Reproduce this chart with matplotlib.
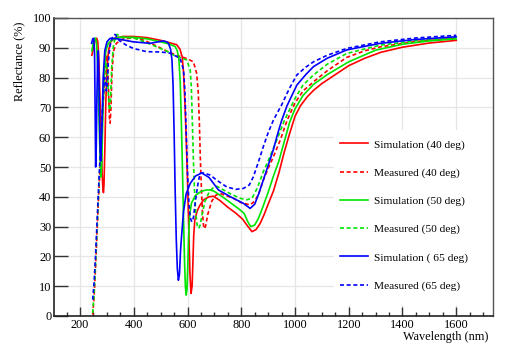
import matplotlib
matplotlib.use('Agg')
import matplotlib.pyplot as plt
from matplotlib.ticker import MultipleLocator
from matplotlib.patches import Rectangle

plt.rcParams['font.family'] = ['Liberation Serif', 'DejaVu Serif']

# Simulation (40 deg)
wl_sim40 = [244, 250, 256, 262, 266, 270, 274, 278, 282, 285, 287, 289, 292, 296, 300, 306, 314, 330,
            360, 400, 450, 500, 530, 560, 572, 580, 585, 590, 595, 600, 605, 609, 613, 617, 620, 623,
            627, 635, 645, 660, 680, 696, 720, 750, 780, 805, 825, 840, 855, 870, 885, 900, 920, 940,
            960, 980, 1000, 1020, 1045, 1070, 1100, 1150, 1200, 1260, 1320, 1400, 1500, 1600]
r_sim40 = [87.5, 90, 92.5, 93.2, 92, 86, 74, 60, 48, 43, 41.4, 44, 55, 72, 83, 89, 92, 93.3,
           93.8, 93.8, 93.4, 92.5, 91.8, 91, 89.5, 87, 82, 72, 60, 45, 28, 14, 7.6, 10, 18, 27,
           32, 35, 37, 39, 40, 40.2, 38.8, 36.5, 34.5, 32.5, 30, 28.3, 29, 31, 34, 37.5, 42, 48,
           55, 61.2, 67, 70.5, 73.5, 75.8, 78, 81, 84, 86.5, 88.5, 90.2, 91.6, 92.5]

# Measured (40 deg)
wl_mea40 = [247, 252, 258, 264, 270, 276, 282, 288, 294, 299, 303, 306, 309, 312, 315, 319, 325, 335,
            360, 400, 440, 480, 520, 560, 600, 622, 634, 640, 644, 648, 652, 656, 660, 664, 668, 675,
            690, 705, 720, 740, 771, 800, 833, 850, 865, 882, 900, 920, 945, 970, 1000, 1030, 1069,
            1120, 1193, 1260, 1317, 1450, 1600]
r_mea40 = [0.5, 6, 17, 30, 42, 53, 64, 75, 84, 87.5, 84, 76, 67, 64.7, 70, 82, 89, 91.5,
           93, 93.3, 92.5, 90.8, 89, 87.5, 86.3, 85.3, 81.4, 75, 65, 52, 42, 34, 30, 29.3, 30.5, 34,
           38.5, 40.5, 41.2, 40.5, 39.5, 38, 37.3, 38.5, 41, 45.6, 49.5, 53.5, 59, 65.5, 71.5, 75.5, 78.6,
           82.3, 86.8, 89, 90.3, 92.1, 93.2]

# Simulation (50 deg)
wl_sim50 = [244, 250, 256, 261, 265, 269, 273, 276, 278, 281, 285, 290, 296, 305, 318, 340, 400, 450,
            500, 530, 554, 562, 568, 573, 577, 581, 585, 589, 592, 595, 598, 601, 604, 608, 615, 630,
            650, 670, 685, 700, 730, 760, 790, 810, 825, 835, 850, 865, 880, 900, 920, 940, 960, 980,
            1000, 1030, 1070, 1120, 1200, 1300, 1400, 1500, 1600]
r_sim50 = [89, 92, 93.3, 92, 85, 72, 58, 50, 46.7, 52, 68, 82, 89, 91.5, 92.5, 93.5, 93.5, 93,
           92, 91.3, 90.4, 89, 86, 78, 65, 50, 33, 18, 10, 7, 9, 17, 27, 34, 38, 40.5,
           41.8, 42.3, 42.3, 41.8, 40, 38, 36, 34.5, 31.5, 30, 30.5, 33, 36.5, 41.5, 47, 52, 58.5, 65,
           69.5, 74, 77.8, 81, 85.3, 89.2, 91.2, 92.3, 93.0]

# Measured (50 deg)
wl_mea50 = [247, 252, 258, 264, 270, 276, 282, 288, 293, 297, 301, 305, 308, 311, 314, 318, 324, 330,
            337, 360, 400, 440, 480, 520, 547, 570, 597, 610, 614, 618, 622, 626, 631, 636, 642, 647,
            654, 665, 680, 695, 710, 730, 760, 796, 820, 840, 860, 882, 900, 932, 960, 1000, 1030,
            1069, 1120, 1193, 1317, 1450, 1600]
r_mea50 = [1, 7, 18, 31, 43, 54, 65, 76, 83, 85, 83, 75, 70, 69, 74, 84, 90.5, 93,
           94.5, 93.5, 93.3, 92, 90.5, 89, 87.6, 86.8, 85.9, 82.6, 77, 65, 52, 42, 34, 30.5, 29.4, 30.5,
           34, 38.5, 41.5, 43, 43.5, 42.5, 41, 39.5, 39, 39.5, 43, 48.4, 52, 59, 65.5, 73, 77.5,
           80.9, 84.5, 88.1, 90.9, 92.4, 93.4]

# Simulation ( 65 deg)
wl_sim65 = [243, 247, 251, 254, 256, 258, 260, 263, 266, 268, 271, 274, 277, 281, 286, 292, 300, 312,
            340, 398, 461, 490, 510, 522, 529, 537, 542, 546, 550, 554, 558, 562, 566, 570, 574, 578,
            585, 595, 610, 630, 653, 680, 715, 760, 808, 833, 850, 865, 882, 900, 920, 935, 950, 970,
            1007, 1040, 1069, 1120, 1193, 1317, 1450, 1600]
r_sim65 = [91.5, 93, 93.2, 88, 70, 50, 55, 75, 88, 89, 75, 58, 52, 62, 80, 89, 92, 93.2,
           93, 92, 91.5, 92, 92.3, 92, 91.5, 89.5, 86, 78, 62, 42, 26, 16, 12, 14, 22, 27,
           35, 41, 44.5, 47, 48, 46.5, 42.3, 40, 37.8, 36.1, 37.5, 41, 45.6, 50.5, 56, 61, 65.5, 70.5,
           77.5, 81, 83.7, 86.5, 89.3, 91.5, 92.8, 93.7]

# Measured (65 deg)
wl_mea65 = [247, 252, 258, 264, 270, 276, 282, 287, 291, 295, 298, 301, 305, 311, 318, 326, 330, 338,
            345, 370, 398, 448, 500, 535, 572, 585, 590, 595, 600, 605, 610, 616, 622, 630, 640, 647,
            660, 684, 710, 746, 780, 808, 830, 845, 865, 882, 900, 920, 950, 980, 1007, 1040, 1069,
            1120, 1193, 1317, 1450, 1600]
r_mea65 = [5.5, 11, 21, 33, 45, 56, 67, 75, 80, 79, 75.5, 78, 85, 90.5, 93, 94.2, 94.5, 93.5,
           92.5, 91, 89.8, 88.7, 88.6, 88.2, 86.5, 82.6, 76, 62, 48, 38, 33, 31.6, 33, 39, 45, 47.9,
           48, 47.3, 45.5, 43.3, 42.5, 42.8, 44, 46.7, 52, 56.8, 61.5, 65.8, 70.8, 76.5, 80.9, 83.5, 85.3,
           87.5, 89.8, 92, 93.3, 94.2]

red, green, blue = '#ff0000', '#00e400', '#0000ff'
dash = (0, (2.4, 1.6))

fig = plt.figure(figsize=(5.08, 3.54), dpi=100)
ax = fig.add_axes([54 / 508, 1 - 316 / 354, 439 / 508, 298 / 354])

ax.plot(wl_sim40, r_sim40, color=red, lw=1.2, label='Simulation (40 deg)')
ax.plot(wl_mea40, r_mea40, color=red, lw=1.2, ls=dash, label='Measured (40 deg)')
ax.plot(wl_sim50, r_sim50, color=green, lw=1.2, label='Simulation (50 deg)')
ax.plot(wl_mea50, r_mea50, color=green, lw=1.2, ls=dash, label='Measured (50 deg)')
ax.plot(wl_sim65, r_sim65, color=blue, lw=1.2, label='Simulation ( 65 deg)')
ax.plot(wl_mea65, r_mea65, color=blue, lw=1.2, ls=dash, label='Measured (65 deg)')

ax.set_xlim(103, 1737)
ax.set_ylim(0, 100)
ax.xaxis.set_major_locator(MultipleLocator(200))
ax.xaxis.set_minor_locator(MultipleLocator(50))
ax.yaxis.set_major_locator(MultipleLocator(10))

ax.set_axisbelow(True)
ax.grid(True, which='major', color='#e6e6e6', lw=0.9)

# white legend area hides the grid
ax.add_patch(Rectangle((0.638, 0.036), 0.362, 0.588, transform=ax.transAxes,
                       facecolor='white', edgecolor='none', zorder=1))

ax.tick_params(axis='x', which='major', direction='in', length=6.7, width=1.0,
               labelsize=8.8, pad=2.5, top=False, color='#333333')
ax.tick_params(axis='x', which='minor', direction='in', length=3.2, width=1.0,
               top=False, color='#333333')
ax.tick_params(axis='y', which='major', direction='in', length=10, width=1.0,
               labelsize=8.8, pad=2, right=False, color='#333333')

for s in ['left', 'bottom']:
    ax.spines[s].set_linewidth(1.2)
    ax.spines[s].set_color('#222222')
for s in ['top', 'right']:
    ax.spines[s].set_linewidth(1.0)
    ax.spines[s].set_color('#555555')

ax.set_ylabel('Reflectance (%)', loc='top', fontsize=8.8)
ax.yaxis.set_label_coords(-29 / 439, (316 - 22) / 298)
ax.set_xlabel('Wavelength (nm)', loc='right', fontsize=8.8)
ax.xaxis.set_label_coords((488 - 54) / 439, -15 / 298)

leg = ax.legend(loc='upper left', bbox_to_anchor=((340 - 54) / 439, (316 - 139.5) / 298),
                frameon=False, fontsize=8.2, handlelength=2.45, handletextpad=0.55,
                labelspacing=1.58, borderpad=0, borderaxespad=0)

fig.savefig('out.png', dpi=100)
